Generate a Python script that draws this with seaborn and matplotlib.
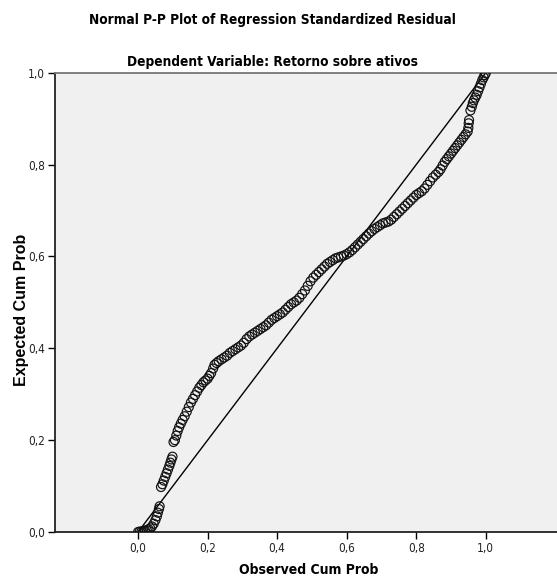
import matplotlib
matplotlib.use('Agg')
import matplotlib.pyplot as plt
import seaborn as sns
import pandas as pd

sns.set_theme(style='white')
plt.rcParams['font.family'] = ['DejaVu Sans']
plt.rcParams['text.color'] = 'black'
plt.rcParams['axes.labelcolor'] = 'black'

# values (observed cum prob, expected cum prob)
observed = [
    0.000, 0.005, 0.010, 0.015, 0.020, 0.025, 0.030, 0.035, 0.040, 0.045, 0.050, 0.054, 0.057, 0.060, 0.062,
    0.066, 0.070, 0.074, 0.078, 0.082, 0.086, 0.090, 0.093, 0.096, 0.099,
    0.102, 0.106, 0.110, 0.114, 0.118, 0.123, 0.128, 0.134, 0.140, 0.146, 0.152, 0.158, 0.164, 0.170, 0.176,
    0.182, 0.188, 0.194, 0.200, 0.205, 0.210, 0.216, 0.220, 0.226, 0.232,
    0.240, 0.248, 0.256, 0.264, 0.272, 0.280, 0.288, 0.296, 0.304, 0.312, 0.320, 0.328, 0.336, 0.344,
    0.352, 0.360, 0.368, 0.376, 0.384, 0.392, 0.400, 0.408, 0.416, 0.424, 0.432, 0.440, 0.448, 0.456,
    0.464, 0.472, 0.480, 0.488, 0.496, 0.504, 0.512, 0.520, 0.528, 0.536, 0.544, 0.552, 0.560, 0.568,
    0.576, 0.584, 0.592, 0.600, 0.608, 0.616, 0.624, 0.632, 0.640, 0.648, 0.656, 0.664, 0.672, 0.680,
    0.688, 0.696, 0.704, 0.712, 0.720,
    0.728, 0.736, 0.744, 0.752, 0.760, 0.768, 0.776, 0.784, 0.792, 0.800, 0.808, 0.816, 0.824, 0.832,
    0.840, 0.848, 0.856, 0.864, 0.870, 0.876, 0.882, 0.888, 0.894, 0.900, 0.906, 0.912, 0.918, 0.924,
    0.930, 0.936, 0.942, 0.948, 0.950, 0.951, 0.952,
    0.956, 0.960, 0.963, 0.966, 0.970, 0.974, 0.978, 0.982, 0.986, 0.990, 0.994, 0.997, 1.000,
]
expected = [
    0.000, 0.001, 0.001, 0.002, 0.003, 0.004, 0.006, 0.008, 0.012, 0.018, 0.026, 0.034, 0.042, 0.050, 0.056,
    0.098, 0.104, 0.112, 0.120, 0.128, 0.136, 0.144, 0.151, 0.158, 0.164,
    0.196, 0.200, 0.210, 0.220, 0.228, 0.236, 0.244, 0.252, 0.262, 0.272, 0.282, 0.290, 0.298, 0.306, 0.314,
    0.320, 0.326, 0.330, 0.334, 0.340, 0.346, 0.356, 0.364, 0.368, 0.372,
    0.376, 0.380, 0.384, 0.390, 0.394, 0.398, 0.402, 0.406, 0.412, 0.420, 0.426, 0.430, 0.434, 0.438,
    0.442, 0.446, 0.450, 0.456, 0.462, 0.466, 0.470, 0.474, 0.478, 0.484, 0.490, 0.496, 0.500, 0.504,
    0.510, 0.518, 0.526, 0.536, 0.546, 0.554, 0.560, 0.566, 0.572, 0.578, 0.584, 0.588, 0.592, 0.596,
    0.598, 0.600, 0.602, 0.605, 0.609, 0.614, 0.620, 0.626, 0.632, 0.638, 0.644, 0.650, 0.655, 0.660,
    0.664, 0.668, 0.672, 0.674, 0.676,
    0.680, 0.686, 0.692, 0.698, 0.704, 0.710, 0.716, 0.722, 0.728, 0.734, 0.738, 0.742, 0.748, 0.756,
    0.764, 0.772, 0.778, 0.784, 0.790, 0.798, 0.806, 0.812, 0.818, 0.824, 0.830, 0.836, 0.842, 0.848,
    0.854, 0.860, 0.866, 0.872, 0.880, 0.890, 0.897,
    0.918, 0.926, 0.934, 0.940, 0.946, 0.952, 0.960, 0.968, 0.976, 0.984, 0.990, 0.995, 0.999,
]
ref_line = [0.0, 1.0]
tick_vals = [0.0, 0.2, 0.4, 0.6, 0.8, 1.0]
tick_labels = ['0,0', '0,2', '0,4', '0,6', '0,8', '1,0']

df = pd.DataFrame({'Observed Cum Prob': observed, 'Expected Cum Prob': expected})

narrow = dict(family=['DejaVu Sans'], stretch='condensed')

fig = plt.figure(figsize=(5.57, 5.85), dpi=100)
ax = fig.add_axes([0.0987, 0.0906, 0.9013, 0.785])
ax.set_facecolor('#f0f0f0')

ax.plot(ref_line, ref_line, color='black', lw=1.0, zorder=2)
sns.scatterplot(data=df, x='Observed Cum Prob', y='Expected Cum Prob', ax=ax,
                marker='o', s=42, facecolor='none', edgecolor='#111111', linewidth=0.85, zorder=3)

ax.set_xlim(-0.239, 1.205)
ax.set_ylim(0.0, 1.0)
ax.set_xticks(tick_vals)
ax.set_xticklabels(tick_labels, **narrow)
ax.set_yticks(tick_vals)
ax.set_yticklabels(tick_labels, **narrow)
ax.tick_params(axis='both', direction='out', length=5, width=1, color='black',
               labelsize=8.5, labelcolor='#222222', bottom=True, left=True, pad=2)

for side in ['left', 'bottom']:
    ax.spines[side].set_color('#222222')
    ax.spines[side].set_linewidth(1.3)
ax.spines['top'].set_color('#777777')
ax.spines['top'].set_linewidth(1.3)
ax.spines['right'].set_visible(False)

ax.set_xlabel('Observed Cum Prob', fontsize=10, fontweight='bold', **narrow)
ax.xaxis.set_label_coords(0.505, -0.067)
ax.set_ylabel('Expected Cum Prob', fontsize=11.5, fontweight='bold',
              family=['Liberation Sans', 'DejaVu Sans'])
ax.yaxis.set_label_coords(-0.052, 0.484)

fig.text(0.49, 0.966, 'Normal P-P Plot of Regression Standardized Residual',
         ha='center', va='center', fontsize=9.8, fontweight='bold', **narrow)
fig.text(0.49, 0.894, 'Dependent Variable: Retorno sobre ativos',
         ha='center', va='center', fontsize=9.8, fontweight='bold', **narrow)

fig.savefig('out.png', dpi=100)
